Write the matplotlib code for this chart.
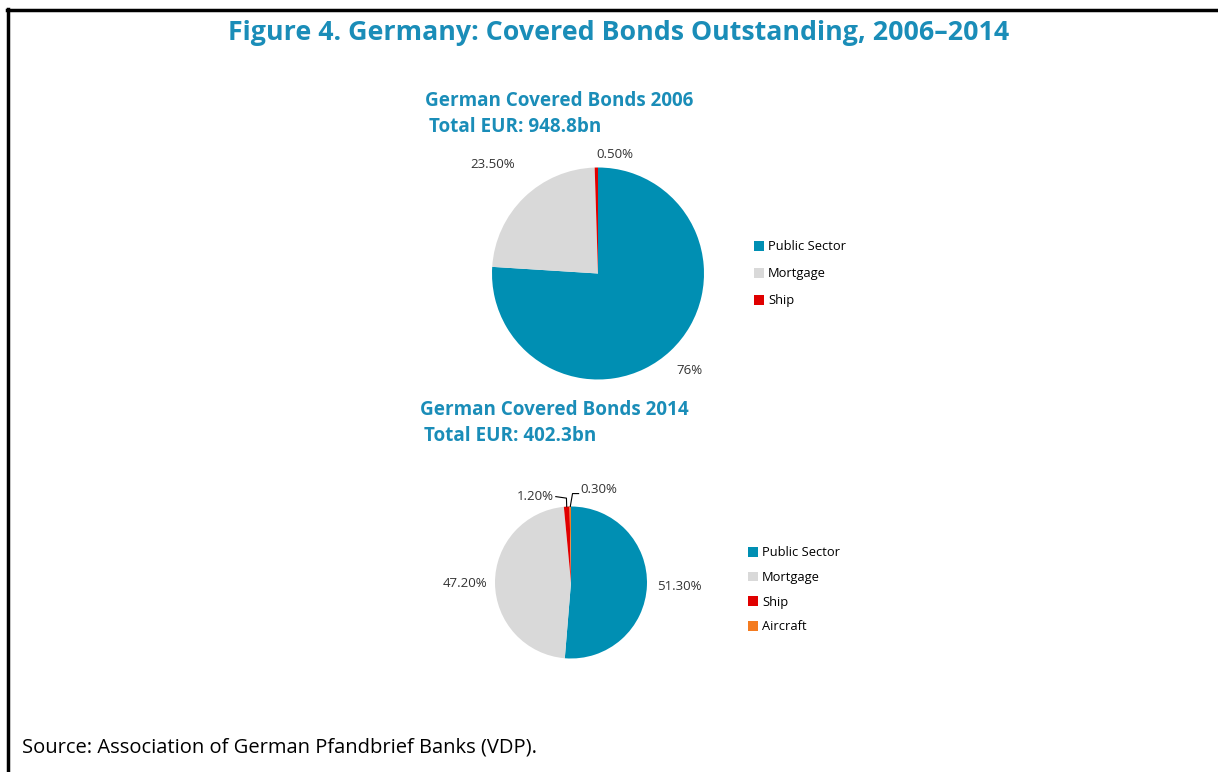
import numpy as np
import matplotlib
matplotlib.use("Agg")
import matplotlib.pyplot as plt
from matplotlib.patches import Patch
from matplotlib.lines import Line2D

plt.rcParams["font.family"] = ["Open Sans", "DejaVu Sans"]

# data
categories_2006 = ["Public Sector", "Mortgage", "Ship"]
shares_2006 = [76.0, 23.5, 0.5]
labels_2006 = ["76%", "23.50%", "0.50%"]
total_2006 = "948.8bn"

categories_2014 = ["Public Sector", "Mortgage", "Ship", "Aircraft"]
shares_2014 = [51.3, 47.2, 1.2, 0.3]
labels_2014 = ["51.30%", "47.20%", "1.20%", "0.30%"]
total_2014 = "402.3bn"

colors = {"Public Sector": "#008FB3", "Mortgage": "#D9D9D9",
          "Ship": "#E00000", "Aircraft": "#F47B20"}
title_color = "#1A8DB8"

W, H = 1218, 772
fig = plt.figure(figsize=(W / 100, H / 100), dpi=100)


def px_axes(x0, y0, x1, y1):
    return fig.add_axes([x0 / W, 1 - y1 / H, (x1 - x0) / W, (y1 - y0) / H])


# frame lines (top and left only)
fig.add_artist(Line2D([7 / W, 1], [1 - 9.5 / H] * 2, color="black", lw=2.5,
                      transform=fig.transFigure))
fig.add_artist(Line2D([7.5 / W] * 2, [1 - 9 / H, 0], color="black", lw=2.5,
                      transform=fig.transFigure))

fig.text(619 / W, 1 - 33 / H, "Figure 4. Germany: Covered Bonds Outstanding, 2006\u20132014",
         ha="center", va="center", fontsize=19.3, fontweight="bold", color=title_color)


def mid_angles(vals):
    cum = np.cumsum([0] + list(vals)) / sum(vals)
    mids = (cum[:-1] + cum[1:]) / 2
    return np.deg2rad(90 - mids * 360)


# ---- 2006 pie
ax1 = px_axes(492, 167, 704, 380)
ax1.pie(shares_2006, colors=[colors[c] for c in categories_2006], startangle=90,
        counterclock=False, radius=1, wedgeprops=dict(linewidth=0))
ax1.set_xlim(-1, 1)
ax1.set_ylim(-1, 1)
ax1.axis("off")
ang = mid_angles(shares_2006)
dist1 = [1.26, 1.43, 1.12]
for a, d, lab, ha in zip(ang, dist1, labels_2006, ["center", "center", "left"]):
    x, y = d * np.cos(a), d * np.sin(a)
    ax1.text(x, y, lab, ha=ha, va="center", fontsize=9.5, color="#333333", clip_on=False)

fig.text(425 / W, 1 - 101 / H, "German Covered Bonds 2006", ha="left", va="center",
         fontsize=13.6, fontweight="bold", color=title_color)
fig.text(429 / W, 1 - 127 / H, "Total EUR: " + total_2006, ha="left", va="center",
         fontsize=13.6, fontweight="bold", color=title_color)

h1 = [Patch(facecolor=colors[c], edgecolor="none") for c in categories_2006]
fig.legend(h1, categories_2006, loc="upper left", bbox_to_anchor=(748 / W, 1 - 234 / H),
           frameon=False, fontsize=9.3, handlelength=0.75, handleheight=0.75,
           handletextpad=0.3, labelspacing=1.08, borderpad=0)

# ---- 2014 pie
ax2 = px_axes(495, 506, 647, 659)
ax2.pie(shares_2014, colors=[colors[c] for c in categories_2014], startangle=90,
        counterclock=False, radius=1, wedgeprops=dict(linewidth=0))
ax2.set_xlim(-1, 1)
ax2.set_ylim(-1, 1)
ax2.axis("off")
ang = mid_angles(shares_2014)
# big slices: plain labels
for a, d, lab in zip(ang[:2], [1.43, 1.4], labels_2014[:2]):
    ax2.text(d * np.cos(a), d * np.sin(a), lab, ha="center", va="center",
             fontsize=9.5, color="#333333", clip_on=False)
# small slices: labels with leader lines
leaders = [((-0.06, 1.11), (-0.2, 1.13), "right"),
           ((0.02, 1.17), (0.10, 1.17), "left")]
text_dy = [0.0, 0.05]
for a, lab, (elbow, tpos, ha), dy in zip(ang[2:], labels_2014[2:], leaders, text_dy):
    px, py = np.cos(a), np.sin(a)
    ax2.plot([px, elbow[0], tpos[0]], [py, elbow[1], tpos[1]], color="black",
             lw=0.8, clip_on=False)
    off = -0.03 if ha == "right" else 0.02
    ax2.text(tpos[0] + off, tpos[1] + dy, lab, ha=ha, va="center", fontsize=9.5,
             color="#333333", clip_on=False)

fig.text(420 / W, 1 - 410 / H, "German Covered Bonds 2014", ha="left", va="center",
         fontsize=13.6, fontweight="bold", color=title_color)
fig.text(424 / W, 1 - 436 / H, "Total EUR: " + total_2014, ha="left", va="center",
         fontsize=13.6, fontweight="bold", color=title_color)

h2 = [Patch(facecolor=colors[c], edgecolor="none") for c in categories_2014]
fig.legend(h2, categories_2014, loc="upper left", bbox_to_anchor=(742 / W, 1 - 540 / H),
           frameon=False, fontsize=9.3, handlelength=0.75, handleheight=0.75,
           handletextpad=0.3, labelspacing=0.9, borderpad=0)

fig.text(22 / W, 1 - 748 / H, "Source: Association of German Pfandbrief Banks (VDP).",
         ha="left", va="center", fontsize=14.5, color="black")

fig.savefig("out.png", dpi=100)
